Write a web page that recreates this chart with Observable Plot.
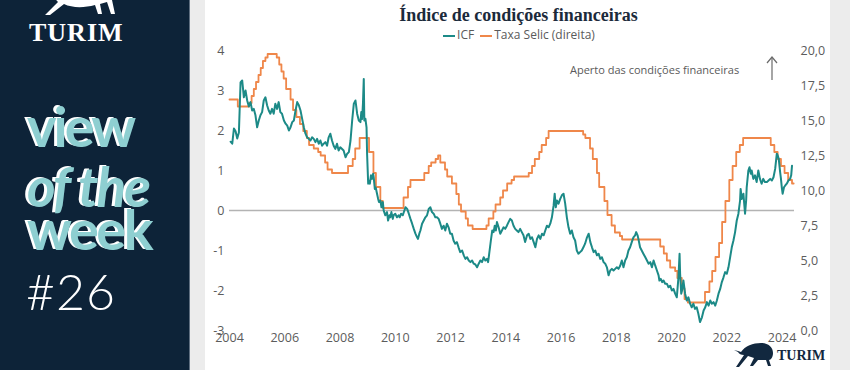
<!DOCTYPE html>
<html>
<head>
<meta charset="utf-8">
<script src="https://cdn.jsdelivr.net/npm/d3@7"></script>
<script src="https://cdn.jsdelivr.net/npm/@observablehq/plot@0.6"></script>
<style>
  html, body { margin: 0; padding: 0; }
  body { width: 850px; height: 370px; position: relative; overflow: hidden; background: #ececec; font-family: "Open Sans", sans-serif; }
  #left { position: absolute; left: 0; top: 0; }
  #left .big { filter: drop-shadow(-2.5px -1px 0 #ffffff); }
  #card { position: absolute; left: 205px; top: 0; width: 625px; height: 370px; background: #ffffff; }
  #title { position: absolute; left: 0; top: 6px; width: 627px; text-align: center; font-family: "Liberation Serif", serif; font-weight: bold; font-size: 18px; line-height: 18px; color: #1b2a3b; }
  #legend { position: absolute; left: 0; top: 28px; width: 628px; text-align: center; font-size: 12px; line-height: 13px; color: #5a5a5a; }
  #legend .sw { display: inline-block; width: 12px; height: 2px; vertical-align: middle; margin-right: 2px; }
  #legend .item { margin: 0 3px; }
  #annot { position: absolute; left: 365px; top: 64px; font-size: 11px; line-height: 12px; color: #5a5a5a; white-space: nowrap; }
  #chart { position: absolute; left: 0; top: 0; }
  #deco { position: absolute; left: 0; top: 0; pointer-events: none; }
</style>
</head>
<body>
<svg id="left" width="190" height="370" xmlns="http://www.w3.org/2000/svg">
  <rect x="0" y="0" width="189" height="370" fill="#0d2338"/>
  <rect x="189" y="0" width="1" height="370" fill="#5f6f80"/>
  <g fill="#ffffff">
    <path d="M52,-30 C60,-34 96,-34 106,-24 C112,-18 114,-8 112,0 L115,14 L111,14 L107,2 L100,4 L102,14 L98,14 L95,5 C84,8 72,8 64,4 L50,15 L45,15 L58,2 C54,-2 50,-8 48,-14 Z"/>
  </g>
  <text x="29" y="41" font-family="Liberation Serif" font-weight="bold" font-size="26" letter-spacing="1" fill="#ffffff">TURIM</text>
  <text class="big" font-family="Lato" font-weight="700" font-size="56" fill="#8ecfd1"><tspan x="27" y="147" letter-spacing="-3">view</tspan><tspan x="27" y="207" font-style="italic" font-size="55" letter-spacing="-2">of the</tspan><tspan x="27" y="250" letter-spacing="-2.5">week</tspan></text>
  <text x="26" y="310" font-family="Lato" font-weight="300" font-size="50" letter-spacing="1" fill="#ffffff">#26</text>
</svg>

<div id="card">
  <div id="chart"></div>
  <div id="title">Índice de condições financeiras</div>
  <div id="legend"><span class="item"><span class="sw" style="background:#1c8a87"></span>ICF</span><span class="item"><span class="sw" style="background:#ef874a"></span>Taxa Selic (direita)</span></div>
  <div id="annot">Aperto das condições financeiras</div>
  <svg id="deco" width="625" height="370" xmlns="http://www.w3.org/2000/svg">
    <g stroke="#6a6a6a" stroke-width="1.2" fill="none">
      <path d="M567,80 L567,57"/>
      <path d="M562,63 L567,57 L572,63"/>
    </g>
    <g fill="#12283f">
      <path d="M536,352 C540,346 548,343 556,343 C563,343 568,347 568,353 C568,357 566,360 564,360 L566,366 L563,366 L561,360 L553,360 L548,366 L545,366 L549,358 L543,356 L534,367 L531,367 L539,355 C536,355 534,354 533,352 L529,350 L533,351 Z"/>
    </g>
    <text x="572" y="360" font-family="Liberation Serif" font-weight="bold" font-size="14" fill="#12283f">TURIM</text>
  </svg>
</div>

<script>
// ---- Data ----
const icfYear = [2004.04,2004.10,2004.16,2004.22,2004.28,2004.34,2004.40,2004.46,2004.52,2004.58,2004.64,2004.70,2004.76,2004.82,2004.88,2004.94,
2005.00,2005.06,2005.12,2005.18,2005.24,2005.30,2005.36,2005.42,2005.48,2005.54,2005.60,2005.66,2005.72,2005.78,2005.84,2005.90,2005.97,
2006.03,2006.09,2006.15,2006.21,2006.27,2006.33,2006.39,2006.45,2006.51,2006.57,2006.63,2006.69,2006.75,2006.81,2006.87,2006.93,2006.99,
2007.05,2007.11,2007.17,2007.23,2007.29,2007.35,2007.41,2007.47,2007.53,2007.59,2007.65,2007.71,2007.77,2007.83,2007.89,2007.95,
2008.01,2008.13,2008.20,2008.26,2008.32,2008.38,2008.44,2008.50,2008.56,2008.62,2008.68,2008.74,2008.77,2008.80,2008.83,2008.86,2008.88,2008.92,2008.96,2008.98,
2009.02,2009.04,2009.08,2009.12,2009.16,2009.20,2009.22,2009.26,2009.29,2009.34,2009.38,2009.41,2009.46,2009.50,2009.55,2009.58,2009.64,2009.70,2009.74,2009.79,2009.82,2009.86,2009.91,2009.94,
2010.00,2010.06,2010.12,2010.16,2010.21,2010.27,2010.33,2010.37,2010.43,2010.49,2010.55,2010.61,2010.67,2010.73,2010.79,2010.82,2010.87,2010.91,2010.97,
2011.03,2011.09,2011.15,2011.21,2011.27,2011.33,2011.39,2011.45,2011.51,2011.57,2011.63,2011.69,2011.75,2011.81,2011.87,2011.93,2011.99,
2012.05,2012.11,2012.17,2012.23,2012.29,2012.35,2012.42,2012.48,2012.54,2012.60,2012.66,2012.72,2012.78,2012.84,2012.90,2012.96,
2013.02,2013.08,2013.14,2013.20,2013.26,2013.32,2013.36,2013.40,2013.46,2013.51,2013.56,2013.60,2013.64,2013.68,2013.74,2013.80,2013.86,2013.92,2013.98,
2014.04,2014.10,2014.16,2014.22,2014.28,2014.34,2014.40,2014.46,2014.52,2014.58,2014.64,2014.70,2014.77,2014.83,2014.89,2014.95,
2015.01,2015.07,2015.13,2015.19,2015.25,2015.31,2015.37,2015.43,2015.49,2015.55,2015.61,2015.67,2015.73,2015.77,2015.81,2015.85,2015.91,2015.97,
2016.03,2016.09,2016.15,2016.21,2016.27,2016.33,2016.39,2016.45,2016.51,2016.57,2016.63,2016.69,2016.75,2016.81,2016.87,2016.94,
2017.00,2017.06,2017.12,2017.18,2017.24,2017.30,2017.36,2017.42,2017.48,2017.54,2017.60,2017.66,2017.72,2017.78,2017.84,2017.90,2017.96,
2018.02,2018.08,2018.14,2018.20,2018.26,2018.32,2018.38,2018.44,2018.50,2018.56,2018.62,2018.68,2018.72,2018.77,2018.80,2018.86,2018.92,2018.98,
2019.05,2019.11,2019.17,2019.23,2019.29,2019.35,2019.41,2019.47,2019.53,2019.56,2019.61,2019.66,2019.71,2019.77,2019.83,2019.89,2019.95,
2020.01,2020.07,2020.13,2020.19,2020.25,2020.29,2020.31,2020.35,2020.38,2020.43,2020.49,2020.55,2020.61,2020.67,2020.73,2020.79,2020.85,2020.91,2020.97,
2021.03,2021.10,2021.16,2021.22,2021.28,2021.34,2021.40,2021.46,2021.52,2021.58,2021.64,2021.70,2021.76,2021.82,2021.88,2021.94,
2022.00,2022.06,2022.12,2022.18,2022.24,2022.30,2022.36,2022.42,2022.48,2022.50,2022.54,2022.60,2022.66,2022.70,2022.72,2022.78,2022.82,2022.87,2022.90,2022.96,
2023.02,2023.08,2023.14,2023.20,2023.26,2023.32,2023.38,2023.45,2023.51,2023.57,2023.63,2023.69,2023.75,2023.81,2023.84,2023.88,2023.93,2023.96,2023.99,
2024.02,2024.07,2024.11,2024.17,2024.23,2024.29,2024.33,2024.36];

const icfValue = [1.72,1.67,2.05,1.98,1.80,1.95,3.20,3.25,2.83,3.00,2.75,2.60,2.71,2.50,2.54,2.38,
2.08,2.25,2.38,2.46,2.75,2.83,2.63,2.50,2.42,2.54,2.42,2.67,2.54,2.71,2.46,2.42,2.25,
2.17,2.12,2.00,2.08,2.21,2.25,2.50,2.71,2.63,2.50,2.29,2.08,1.92,1.83,1.79,1.75,1.83,
1.79,1.71,1.79,1.67,1.75,1.62,1.67,1.71,1.62,1.83,1.92,1.75,1.62,1.54,1.67,1.50,
1.58,1.50,1.33,1.42,1.46,1.75,2.25,2.67,2.75,2.42,2.25,2.21,2.46,2.29,2.67,3.29,2.25,2.29,2.08,1.42,
0.67,0.75,0.67,0.88,0.79,0.92,0.83,0.54,0.58,0.42,0.29,0.21,0.25,0.08,0.21,0.00,-0.12,-0.04,-0.25,-0.12,-0.17,-0.04,-0.21,-0.12,
-0.08,-0.17,-0.12,-0.17,-0.08,-0.12,0.00,0.08,0.04,-0.08,-0.21,-0.33,-0.46,-0.58,-0.67,-0.71,-0.58,-0.50,-0.33,
-0.25,-0.17,-0.12,0.04,0.08,-0.04,-0.08,-0.17,-0.17,-0.21,-0.33,-0.46,-0.38,-0.50,-0.33,-0.42,-0.58,
-0.58,-0.75,-0.83,-0.79,-0.92,-1.04,-1.00,-1.12,-1.21,-1.17,-1.25,-1.29,-1.25,-1.33,-1.35,-1.42,
-1.33,-1.25,-1.29,-1.17,-1.25,-1.21,-1.29,-1.08,-0.75,-0.50,-0.54,-0.38,-0.50,-0.29,-0.42,-0.58,-0.50,-0.42,-0.46,
-0.38,-0.29,-0.21,-0.25,-0.38,-0.46,-0.50,-0.54,-0.46,-0.54,-0.62,-0.79,-0.62,-0.58,-0.71,-0.67,
-0.79,-0.92,-0.71,-0.62,-0.71,-0.58,-0.62,-0.50,-0.38,-0.42,-0.33,-0.17,0.12,0.42,0.08,0.25,0.17,0.29,
0.38,0.42,0.17,-0.17,-0.42,-0.58,-0.50,-0.67,-0.75,-1.00,-1.08,-1.04,-1.00,-0.92,-0.83,-0.67,
-0.58,-0.79,-0.92,-1.04,-1.00,-1.12,-1.08,-1.21,-1.17,-1.29,-1.33,-1.42,-1.62,-1.50,-1.46,-1.50,-1.46,
-1.42,-1.46,-1.38,-1.25,-1.42,-1.25,-1.17,-1.00,-0.92,-0.79,-0.67,-0.62,-0.54,-0.62,-0.71,-0.92,-1.00,-1.08,
-1.17,-1.25,-1.33,-1.29,-1.42,-1.25,-1.38,-1.50,-1.62,-1.75,-1.71,-1.79,-1.75,-1.83,-1.83,-1.92,-1.88,
-2.00,-1.96,-2.08,-2.17,-1.67,-1.08,-1.58,-2.08,-2.00,-1.75,-2.08,-2.25,-2.17,-2.33,-2.42,-2.33,-2.46,-2.42,-2.58,
-2.79,-2.67,-2.50,-2.42,-2.29,-2.38,-2.25,-2.33,-2.29,-2.38,-2.25,-2.08,-1.96,-1.79,-1.67,-1.54,
-1.58,-1.42,-1.17,-0.92,-0.75,-0.54,-0.25,-0.08,0.25,0.54,0.29,0.42,-0.08,0.25,0.58,1.00,1.08,0.92,1.00,0.79,
0.88,0.71,1.00,0.79,0.67,0.79,0.71,0.71,0.75,0.79,0.75,0.83,1.04,1.42,1.38,1.29,0.96,0.79,0.58,
0.42,0.58,0.62,0.67,0.75,0.79,0.88,1.12];

const selicYear = [2004.00,2004.30,2004.71,2004.80,2004.88,2004.96,2005.05,2005.13,2005.21,2005.30,2005.38,2005.71,2005.80,2005.88,2005.96,
2006.05,2006.21,2006.30,2006.42,2006.55,2006.67,2006.80,2006.88,2007.05,2007.21,2007.30,2007.46,2007.55,2007.71,
2008.29,2008.46,2008.55,2008.71,2009.05,2009.21,2009.30,2009.46,2009.55,2010.30,2010.46,2010.55,
2011.05,2011.21,2011.30,2011.46,2011.55,2011.63,2011.80,2011.88,2012.05,2012.21,2012.30,2012.38,2012.55,2012.63,2012.80,
2013.30,2013.38,2013.55,2013.63,2013.80,2013.90,2014.05,2014.21,2014.30,2014.83,2014.95,2015.05,2015.21,2015.30,2015.46,2015.55,
2016.80,2016.88,2017.05,2017.15,2017.30,2017.38,2017.57,2017.68,2017.83,2017.95,2018.13,2018.21,
2019.59,2019.72,2019.83,2019.95,2020.13,2020.21,2020.37,2020.47,2020.59,
2021.21,2021.37,2021.47,2021.59,2021.72,2021.83,2021.95,2022.09,2022.21,2022.34,2022.47,2022.59,
2023.59,2023.72,2023.84,2023.96,2024.09,2024.22,2024.36,2024.42];

const selicRate = [16.5,16.0,16.25,16.75,17.25,17.75,18.25,18.75,19.25,19.5,19.75,19.5,19.0,18.5,18.0,
17.25,16.5,15.75,15.25,14.75,14.25,13.75,13.25,13.0,12.75,12.5,12.0,11.5,11.25,
11.75,12.25,13.0,13.75,12.75,11.25,10.25,9.25,8.75,9.5,10.25,10.75,
11.25,11.75,12.0,12.25,12.5,12.0,11.5,11.0,10.5,9.75,9.0,8.5,8.0,7.5,7.25,
7.5,8.0,8.5,9.0,9.5,10.0,10.5,10.75,11.0,11.25,11.75,12.25,12.75,13.25,13.75,14.25,
14.0,13.75,13.0,12.25,11.25,10.25,9.25,8.25,7.5,7.0,6.75,6.5,
6.0,5.5,5.0,4.5,4.25,3.75,3.0,2.25,2.0,
2.75,3.5,4.25,5.25,6.25,7.75,9.25,10.75,11.75,12.75,13.25,13.75,
13.25,12.75,12.25,11.75,11.25,10.75,10.5,10.5];

const xTicks = [2004, 2006, 2008, 2010, 2012, 2014, 2016, 2018, 2020, 2022, 2024];
const leftTicks = [-3, -2, -1, 0, 1, 2, 3, 4];
const rightTicks = [0, 2.5, 5, 7.5, 10, 12.5, 15, 17.5, 20];

// ---- Build ----
const toLeft = r => r * 7 / 20 - 3;
const fromLeft = v => (v + 3) * 20 / 7;
const icf = icfYear.map((y, i) => ({year: y, value: icfValue[i]}));
const selic = selicYear.map((y, i) => ({year: y, value: toLeft(selicRate[i])}));

const tickColor = "#5c5c5c";
const chart = Plot.plot({
  width: 625,
  height: 370,
  marginLeft: 24,
  marginRight: 36,
  marginTop: 50,
  marginBottom: 40,
  x: {domain: [2004, 2024.45], label: null},
  y: {domain: [-3, 4], label: null},
  style: {fontFamily: "Open Sans", fontSize: "12.5px", color: tickColor, background: "transparent", overflow: "visible"},
  marks: [
    Plot.ruleY([0], {stroke: "#b3b3b3", strokeWidth: 1.3}),
    Plot.line(selic, {x: "year", y: "value", curve: "step-after", stroke: "#ef874a", strokeWidth: 1.8}),
    Plot.line(icf, {x: "year", y: "value", stroke: "#1c8a87", strokeWidth: 2}),
    Plot.axisX(xTicks, {label: null, tickSize: 0, tickPadding: 3, tickFormat: d => String(d), fill: tickColor, fontSize: 12.5}),
    Plot.axisY(leftTicks, {anchor: "left", label: null, tickSize: 0, tickPadding: 5, tickFormat: d => String(d), fill: tickColor, fontSize: 12.5}),
    Plot.axisY(rightTicks.map(toLeft), {anchor: "right", label: null, tickSize: 0, tickPadding: 6, tickFormat: d => fromLeft(d).toFixed(1).replace(".", ","), fill: tickColor, fontSize: 12.5})
  ]
});
document.getElementById("chart").appendChild(chart);
</script>
</body>
</html>
